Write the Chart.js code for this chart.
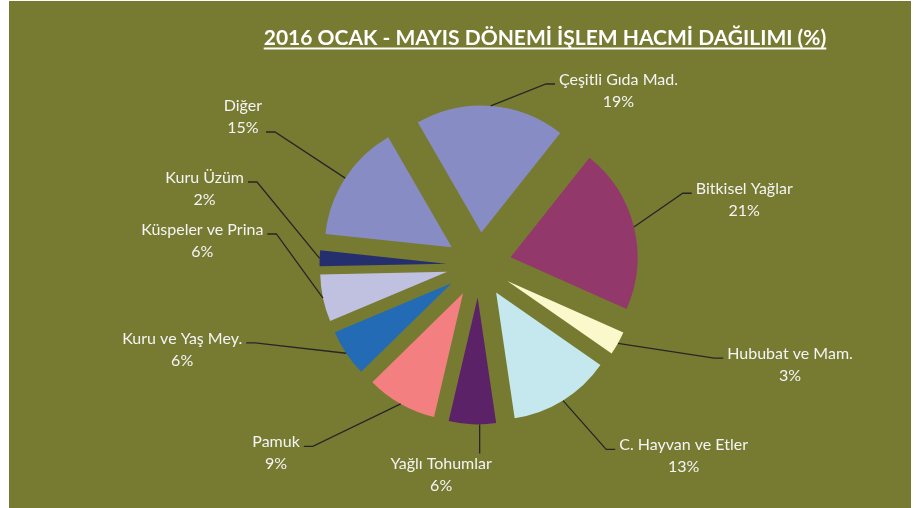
<!DOCTYPE html>
<html lang="tr">

<head>
    <meta charset="UTF-8" />
    <title>2016 Ocak - Mayıs İşlem Hacmi Dağılımı</title>
    <script src="https://cdn.jsdelivr.net/npm/chart.js"></script>
    <style>
        html, body {
            margin: 0;
            padding: 0;
            background: #ffffff;
        }

        #wrap {
            width: 922px;
            height: 508px;
            position: relative;
        }
    </style>
</head>

<body>
    <div id="wrap"><canvas id="pieChart" width="922" height="508"></canvas></div>

    <script>
        const chartTitle = "2016 OCAK - MAYIS DÖNEMİ İŞLEM HACMİ DAĞILIMI (%)";

        const categories = [
            "Çeşitli Gıda Mad.",
            "Bitkisel Yağlar",
            "Hububat ve Mam.",
            "C. Hayvan ve Etler",
            "Yağlı Tohumlar",
            "Pamuk",
            "Kuru ve Yaş Mey.",
            "Küspeler ve Prina",
            "Kuru Üzüm",
            "Diğer"
        ];
        const shares = [19, 21, 3, 13, 6, 9, 6, 6, 2, 15];

        const sliceColors = [
            "#878dc4", "#93386b", "#fbf8cb", "#c5e7ee", "#5c2268",
            "#f37f81", "#236bb5", "#c0c0e0", "#262f6e", "#878dc4"
        ];

        // where each data label sits: leader elbow in polar form around the pie centre
        // side 1 = label right of elbow, -1 = left, 0 = below; attach = which text line the leader meets
        const labelLayout = [
            { r: 193, deg: 20.3, side: 1, attach: 0 },
            { r: 216, deg: 70.6, side: 1, attach: 0 },
            { r: 253, deg: 111.6, side: 1, attach: 0 },
            { r: 224, deg: 145.4, side: 1, attach: 0 },
            { r: 188.5, deg: 179.8, side: 0, attach: 0, dx: -38.5 },
            { r: 246, deg: 222.5, side: -1, attach: 0 },
            { r: 237, deg: 250.8, side: -1, attach: 0 },
            { r: 205, deg: 278.7, side: -1, attach: 0 },
            { r: 237, deg: 290.5, side: -1, attach: 0 },
            { r: 243.5, deg: 303.1, side: -1, attach: 1 }
        ];

        const explodePx = 32.5;
        const labelFont = "16px Lato";
        const lineGap = 22;

        const backdrop = {
            id: "backdrop",
            beforeDraw(chart) {
                const ctx = chart.ctx;
                ctx.save();
                ctx.fillStyle = "#777b32";
                ctx.fillRect(9, 1, 902, 507);
                ctx.restore();
            }
        };

        // exploded slices: every arc pushed out along its own bisector
        const explode = {
            id: "explode",
            beforeDatasetDraw(chart, args) {
                const ctx = chart.ctx;
                args.meta.data.forEach(arc => {
                    const mid = (arc.startAngle + arc.endAngle) / 2;
                    ctx.save();
                    ctx.translate(Math.cos(mid) * explodePx, Math.sin(mid) * explodePx);
                    arc.draw(ctx);
                    ctx.restore();
                });
                return false;
            }
        };

        const leaderLabels = {
            id: "leaderLabels",
            afterDatasetsDraw(chart) {
                const ctx = chart.ctx;
                const arcs = chart.getDatasetMeta(0).data;
                const total = shares.reduce((a, b) => a + b, 0);
                ctx.save();
                ctx.font = labelFont;
                arcs.forEach((arc, i) => {
                    const lay = labelLayout[i];
                    const mid = (arc.startAngle + arc.endAngle) / 2;
                    const ax = arc.x + Math.cos(mid) * explodePx;
                    const ay = arc.y + Math.sin(mid) * explodePx;
                    const R = arc.outerRadius;
                    const rad = lay.deg * Math.PI / 180;
                    const ex = arc.x + lay.r * Math.sin(rad);
                    const ey = arc.y - lay.r * Math.cos(rad);

                    let sx = ax + Math.cos(mid) * R;
                    let sy = ay + Math.sin(mid) * R;
                    if (lay.side === 0) {
                        sx = ex;
                        sy = ay + Math.sqrt(Math.max(R * R - (ex - ax) * (ex - ax), 0));
                    }

                    const lines = [categories[i], Math.round(shares[i] / total * 100) + "%"];
                    const w = Math.max(...lines.map(t => ctx.measureText(t).width));

                    ctx.strokeStyle = "#262626";
                    ctx.lineWidth = 1.3;
                    ctx.beginPath();
                    ctx.moveTo(sx, sy);
                    ctx.lineTo(ex, ey);
                    let cx, base;
                    if (lay.side === 0) {
                        cx = ex + lay.dx;
                        base = ey + 16;
                    } else {
                        const stubX = ex + lay.side * 9;
                        ctx.lineTo(stubX, ey);
                        cx = stubX + lay.side * (4 + w / 2);
                        base = ey + 1 - lay.attach * lineGap;
                    }
                    ctx.stroke();

                    ctx.fillStyle = "#f4f4f4";
                    ctx.textAlign = "center";
                    ctx.textBaseline = "alphabetic";
                    lines.forEach((t, k) => ctx.fillText(t, cx, base + k * lineGap));
                });
                ctx.restore();
            },
            afterDraw(chart) {
                const ctx = chart.ctx;
                ctx.save();
                ctx.font = "bold 21px Lato";
                ctx.fillStyle = "#ffffff";
                ctx.textAlign = "center";
                ctx.textBaseline = "alphabetic";
                const cx = 545;
                ctx.fillText(chartTitle, cx, 45);
                const w = ctx.measureText(chartTitle).width;
                ctx.fillRect(cx - w / 2, 47.5, w, 2);
                ctx.restore();
            }
        };

        const ctx = document.getElementById("pieChart").getContext("2d");

        const chart = new Chart(ctx, {
            type: "pie",
            data: {
                labels: categories,
                datasets: [{
                    data: shares,
                    backgroundColor: sliceColors,
                    borderWidth: 0,
                    radius: 127
                }]
            },
            options: {
                responsive: false,
                animation: false,
                rotation: -30,
                layout: {
                    padding: { left: 279, right: 243, top: 65, bottom: 43 }
                },
                plugins: {
                    legend: { display: false },
                    title: { display: false },
                    tooltip: { enabled: false }
                }
            },
            plugins: [backdrop, explode, leaderLabels]
        });
    </script>

</body>

</html>
